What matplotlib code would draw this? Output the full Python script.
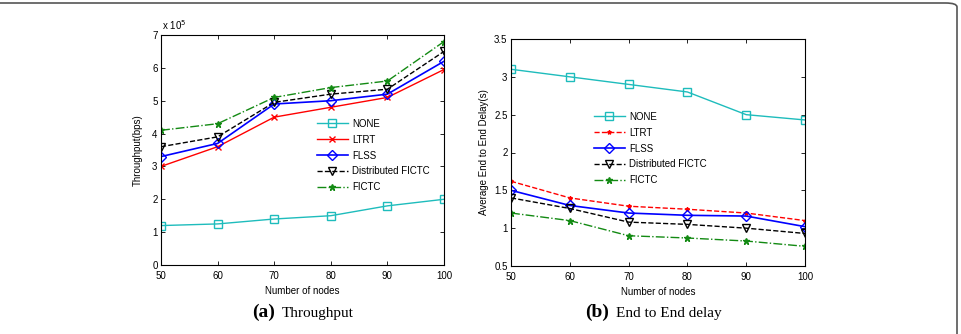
import matplotlib.pyplot as plt
from matplotlib.patches import FancyBboxPatch

nodes = [50, 60, 70, 80, 90, 100]
labels = ["NONE", "LTRT", "FLSS", "Distributed FICTC", "FICTC"]

# throughput in units of 1e5 bps
thr_none = [1.2, 1.25, 1.4, 1.5, 1.8, 2.0]
thr_ltrt = [3.0, 3.6, 4.5, 4.8, 5.1, 5.95]
thr_flss = [3.3, 3.7, 4.9, 5.0, 5.2, 6.2]
thr_dist = [3.6, 3.9, 4.95, 5.2, 5.35, 6.5]
thr_fictc = [4.1, 4.3, 5.1, 5.4, 5.6, 6.8]

# end to end delay in s
dly_none = [3.1, 3.0, 2.9, 2.8, 2.5, 2.43]
dly_ltrt = [1.62, 1.4, 1.29, 1.25, 1.2, 1.1]
dly_flss = [1.5, 1.3, 1.2, 1.17, 1.16, 1.02]
dly_dist = [1.4, 1.26, 1.08, 1.05, 1.0, 0.93]
dly_fictc = [1.2, 1.1, 0.9, 0.87, 0.83, 0.76]

plt.rcParams['font.family'] = ['Liberation Sans', 'DejaVu Sans']

fig = plt.figure(figsize=(9.61, 3.34), dpi=100)

# rounded frame (only top and right visible)
frame = FancyBboxPatch((-0.05, -0.2), 957/961 + 0.05, 1.2 - 3/334,
                       boxstyle="round,pad=0,rounding_size=0.012",
                       transform=fig.transFigure, fill=False,
                       ec='#555555', lw=1.2, clip_on=False)
fig.patches.append(frame)

ax1 = fig.add_axes([161/961, 1 - 265/334, 283/961, 230/334])
ax2 = fig.add_axes([511/961, 1 - 266/334, 294/961, 227/334])

cy = '#1ebcbc'
gr = '#138a13'

ax1.plot(nodes, thr_none, '-s', color=cy, mfc='none', ms=6, lw=1.0, label=labels[0])
ax1.plot(nodes, thr_ltrt, '-x', color='red', ms=4, lw=1.0, label=labels[1])
ax1.plot(nodes, thr_flss, '-D', color='blue', mfc='none', ms=5, lw=1.2, label=labels[2])
ax1.plot(nodes, thr_dist, '--v', color='black', mfc='none', ms=6, lw=1.0, label=labels[3])
ax1.plot(nodes, thr_fictc, '-.*', color=gr, ms=5, lw=1.0, label=labels[4])

ax2.plot(nodes, dly_none, '-s', color=cy, mfc='none', ms=6, lw=1.0, label=labels[0])
ax2.plot(nodes, dly_ltrt, '--*', color='red', ms=3, lw=1.0, label=labels[1])
ax2.plot(nodes, dly_flss, '-D', color='blue', mfc='none', ms=5, lw=1.2, label=labels[2])
ax2.plot(nodes, dly_dist, '--v', color='black', mfc='none', ms=6, lw=1.0, label=labels[3])
ax2.plot(nodes, dly_fictc, '-.*', color=gr, ms=5, lw=1.0, label=labels[4])

for ax in (ax1, ax2):
    ax.set_xlim(50, 100)
    ax.set_xticks(nodes)
    ax.tick_params(direction='in', top=True, right=True, labelsize=7, length=3, width=0.6)
    ax.tick_params(axis='x', pad=4)
    ax.tick_params(axis='y', pad=2.5)
    for s in ax.spines.values():
        s.set_linewidth(0.8)
    ax.set_xlabel("Number of nodes", fontsize=7, labelpad=4)

ax1.set_ylim(0, 7)
ax1.set_yticks(range(0, 8))
ax1.set_ylabel("Throughput(bps)", fontsize=7, labelpad=7)
ax1.text(0.005, 1.015, r"x 10$^5$", transform=ax1.transAxes, fontsize=7, va='bottom')

ax2.set_ylim(0.5, 3.5)
ax2.set_yticks([0.5, 1, 1.5, 2, 2.5, 3, 3.5])
ax2.set_yticklabels(["0.5", "1", "1.5", "2", "2.5", "3", "3.5"])
ax2.set_ylabel("Average End to End Delay(s)", fontsize=7, labelpad=4)

leg_kw = dict(frameon=False, fontsize=7, handlelength=3.2, handletextpad=0.4,
              labelspacing=0.6, borderpad=0, loc='upper left')
ax1.legend(bbox_to_anchor=(312/961, 1 - 114/334), bbox_transform=fig.transFigure, **leg_kw)
ax2.legend(bbox_to_anchor=(589/961, 1 - 107/334), bbox_transform=fig.transFigure, **leg_kw)

cap_font = ['Liberation Serif', 'DejaVu Serif']
fig.text(252/961, 1 - 312/334, "(a)", family=cap_font, fontsize=14, fontweight='bold', va='center')
fig.text(282/961, 1 - 313/334, "Throughput", family=cap_font, fontsize=11, va='center')
fig.text(585/961, 1 - 312/334, "(b)", family=cap_font, fontsize=14, fontweight='bold', va='center')
fig.text(616/961, 1 - 313/334, "End to End delay", family=cap_font, fontsize=11, va='center')

fig.savefig("out.png", dpi=100)
